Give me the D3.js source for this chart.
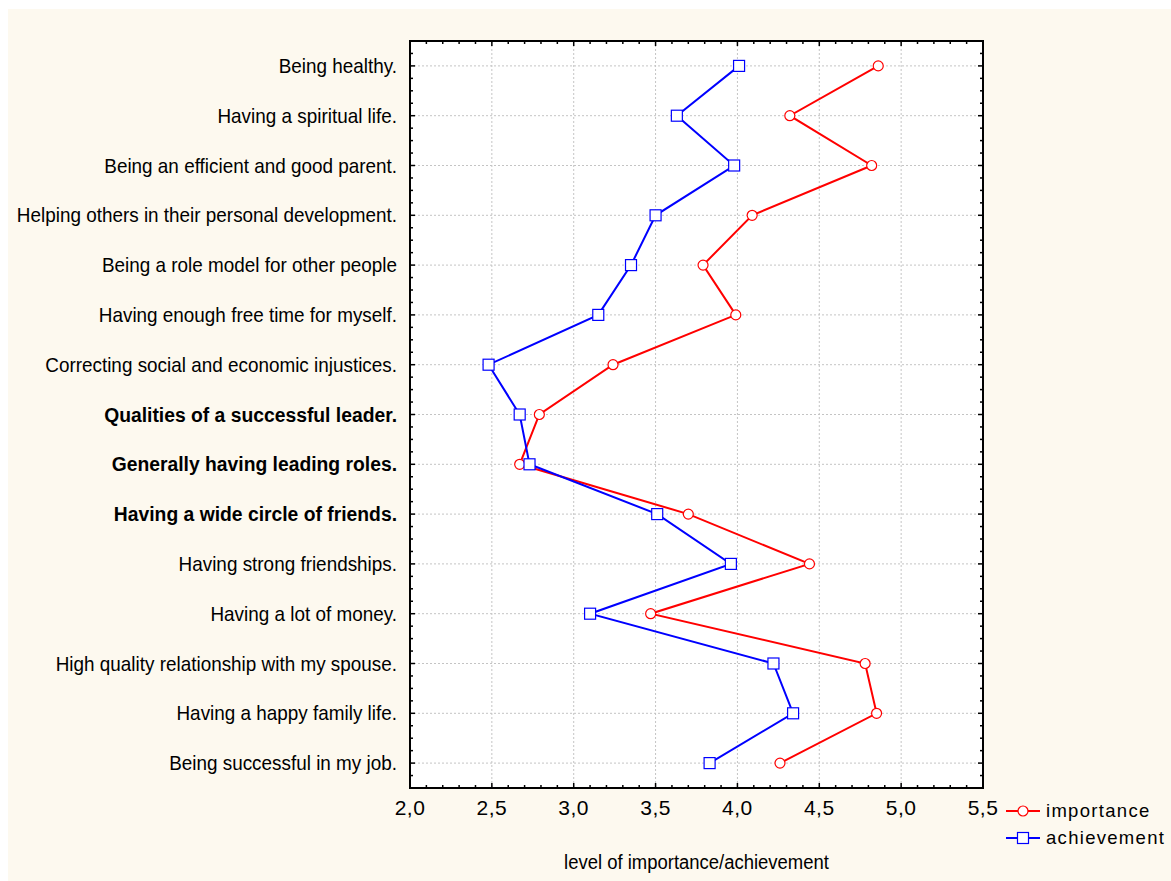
<!DOCTYPE html>
<html><head><meta charset="utf-8">
<script src="https://cdn.jsdelivr.net/npm/d3@7"></script>
<style>body{margin:0;background:#fff}svg{display:block}</style>
</head><body><svg id="c" width="1171" height="881"></svg>
<script>
const categories = [
  "Being healthy.",
  "Having a spiritual life.",
  "Being an efficient and good parent.",
  "Helping others in their personal development.",
  "Being a role model for other people",
  "Having enough free time for myself.",
  "Correcting social and economic injustices.",
  "Qualities of a successful leader.",
  "Generally having leading roles.",
  "Having a wide circle of friends.",
  "Having strong friendships.",
  "Having a lot of money.",
  "High quality relationship with my spouse.",
  "Having a happy family life.",
  "Being successful in my job."
];
const boldCategories = [
  "Qualities of a successful leader.",
  "Generally having leading roles.",
  "Having a wide circle of friends."
];
const importance = [4.86, 4.32, 4.82, 4.09, 3.79, 3.99, 3.24, 2.79, 2.67, 3.70, 4.44, 3.47, 4.78, 4.85, 4.26];
const achievement = [4.01, 3.63, 3.98, 3.50, 3.35, 3.15, 2.48, 2.67, 2.73, 3.51, 3.96, 3.10, 4.22, 4.34, 3.83];
const xTicks = [2.0, 2.5, 3.0, 3.5, 4.0, 4.5, 5.0, 5.5];
const seriesNames = ["importance", "achievement"];
const xTitle = "level of importance/achievement";

const svg = d3.select("#c");
const W = 1171, H = 881;
const L = 410, R = 983, T = 41, B = 788;
const font = "'Liberation Sans',Arial,sans-serif";

svg.append("rect").attr("x", 8).attr("y", 9).attr("width", W - 8).attr("height", H - 9).attr("fill", "#fdf9ef");
svg.append("rect").attr("x", L).attr("y", T).attr("width", R - L).attr("height", B - T).attr("fill", "#fff");

const x = d3.scaleLinear().domain([2, 5.5]).range([L, R]);
const y = d3.scalePoint().domain(categories).range([T, B]).padding(0.5);
const step = y.step();

// grid
const g = svg.append("g");
g.selectAll(".vg").data(xTicks.slice(1, -1)).join("line")
  .attr("x1", d => x(d)).attr("x2", d => x(d)).attr("y1", T).attr("y2", B)
  .attr("stroke", "#c4c4c4").attr("stroke-dasharray", "2,2");
g.selectAll(".hg").data(categories).join("line")
  .attr("x1", L).attr("x2", R).attr("y1", d => y(d)).attr("y2", d => y(d))
  .attr("stroke", "#c4c4c4").attr("stroke-dasharray", "2,2");

// minor ticks
const xMinor = d3.range(21, 55).map(v => v / 10);
const ax = svg.append("g").attr("stroke", "#000");
xMinor.forEach(v => {
  const major = Math.abs(v * 2 - Math.round(v * 2)) < 1e-6;
  const len = major ? 5 : 3;
  ax.append("line").attr("x1", x(v)).attr("x2", x(v)).attr("y1", B).attr("y2", B - len).attr("stroke-width", 1.5);
  ax.append("line").attr("x1", x(v)).attr("x2", x(v)).attr("y1", T).attr("y2", T + len).attr("stroke-width", 1.5);
});
const yMinor = d3.range(1, categories.length * 4).map(k => T + k * step / 4);
yMinor.forEach((v, i) => {
  const major = (i + 1) % 4 === 2;
  const len = major ? 5 : 3;
  ax.append("line").attr("x1", L).attr("x2", L + len).attr("y1", v).attr("y2", v).attr("stroke-width", 1.5);
  ax.append("line").attr("x1", R).attr("x2", R - len).attr("y1", v).attr("y2", v).attr("stroke-width", 1.5);
});
svg.append("rect").attr("x", L).attr("y", T).attr("width", R - L).attr("height", B - T)
  .attr("fill", "none").attr("stroke", "#000").attr("stroke-width", 2);

// axis labels
svg.append("g").selectAll("text").data(xTicks).join("text")
  .attr("x", d => x(d)).attr("y", 815).attr("text-anchor", "middle")
  .attr("font-family", font).attr("font-size", 21).attr("letter-spacing", 0.5)
  .text(d => d.toFixed(1).replace(".", ","));
svg.append("g").selectAll("text").data(categories).join("text")
  .attr("transform", d => `translate(397,${y(d) + 7}) scale(${boldCategories.includes(d) ? 0.92 : 0.9},1)`)
  .attr("text-anchor", "end")
  .attr("font-family", font).attr("font-size", 21)
  .attr("font-weight", d => boldCategories.includes(d) ? "bold" : "normal")
  .text(d => d);
svg.append("text").attr("transform", `translate(${(L + R) / 2},869) scale(0.88,1)`).attr("text-anchor", "middle")
  .attr("font-family", font).attr("font-size", 21).text(xTitle);

// series
const series = [
  { name: seriesNames[0], vals: importance, color: "#ff0000", shape: "circle" },
  { name: seriesNames[1], vals: achievement, color: "#0000ff", shape: "square" }
];
const line = d3.line().x(d => x(d.v)).y(d => y(d.c));
series.forEach(s => {
  const pts = categories.map((c, i) => ({ c, v: s.vals[i] }));
  svg.append("path").datum(pts).attr("d", line).attr("fill", "none")
    .attr("stroke", s.color).attr("stroke-width", 2);
  const gm = svg.append("g");
  if (s.shape === "circle") {
    gm.selectAll("circle").data(pts).join("circle")
      .attr("cx", d => x(d.v)).attr("cy", d => y(d.c)).attr("r", 5)
      .attr("fill", "#fff").attr("stroke", s.color).attr("stroke-width", 1.2);
  } else {
    gm.selectAll("rect").data(pts).join("rect")
      .attr("x", d => x(d.v) - 5.5).attr("y", d => y(d.c) - 5.5).attr("width", 11).attr("height", 11)
      .attr("fill", "#fff").attr("stroke", s.color).attr("stroke-width", 1.2);
  }
});

// legend
const lg = svg.append("g");
series.forEach((s, i) => {
  const ly = 811 + i * 27;
  lg.append("line").attr("x1", 1006).attr("x2", 1040).attr("y1", ly).attr("y2", ly)
    .attr("stroke", s.color).attr("stroke-width", 2);
  if (s.shape === "circle") {
    lg.append("circle").attr("cx", 1023).attr("cy", ly).attr("r", 5)
      .attr("fill", "#fff").attr("stroke", s.color).attr("stroke-width", 1.2);
  } else {
    lg.append("rect").attr("x", 1017.5).attr("y", ly - 5.5).attr("width", 11).attr("height", 11)
      .attr("fill", "#fff").attr("stroke", s.color).attr("stroke-width", 1.2);
  }
  lg.append("text").attr("x", 1046).attr("y", ly + 6).attr("font-family", font)
    .attr("font-size", 18.5).attr("letter-spacing", 1.3).text(s.name);
});
</script></body></html>
